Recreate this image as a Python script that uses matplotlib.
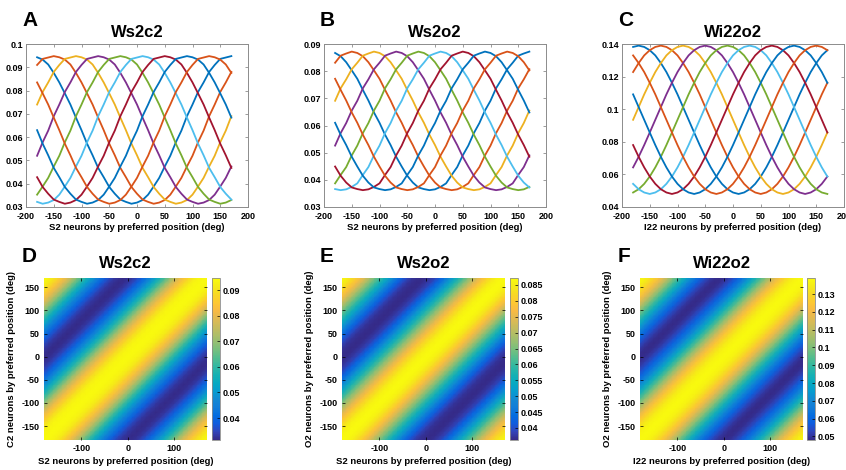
import numpy as np
import matplotlib
matplotlib.use('Agg')
import matplotlib.pyplot as plt
from matplotlib.colors import LinearSegmentedColormap
from matplotlib.ticker import FormatStrFormatter

plt.rcParams['font.family'] = ['Liberation Sans', 'DejaVu Sans']
plt.rcParams['font.weight'] = 'bold'
plt.rcParams['axes.unicode_minus'] = False

# preferred positions of the 36 neurons (deg)
pos = np.arange(-180, 180, 10)

# weight as a function of distance from the peak, 0..350 deg in 10 deg steps
prof_s2c2 = [0.0948, 0.0943, 0.0933, 0.0912, 0.0876, 0.0835, 0.0788, 0.0740, 0.0684,
             0.0630, 0.0572, 0.0522, 0.0468, 0.0428, 0.0386, 0.0357, 0.0332, 0.0322,
             0.0314, 0.0319, 0.0330, 0.0353, 0.0388, 0.0425, 0.0474, 0.0520, 0.0578,
             0.0628, 0.0690, 0.0740, 0.0794, 0.0835, 0.0880, 0.0910, 0.0936, 0.0942]
prof_s2o2 = [0.0872, 0.0867, 0.0855, 0.0833, 0.0803, 0.0772, 0.0731, 0.0692, 0.0648,
             0.0610, 0.0566, 0.0528, 0.0485, 0.0449, 0.0415, 0.0390, 0.0372, 0.0366,
             0.0362, 0.0365, 0.0374, 0.0387, 0.0418, 0.0447, 0.0490, 0.0526, 0.0572,
             0.0609, 0.0655, 0.0691, 0.0737, 0.0770, 0.0807, 0.0831, 0.0857, 0.0865]
prof_i22o2 = [0.1390, 0.1382, 0.1362, 0.1330, 0.1283, 0.1228, 0.1162, 0.1091, 0.1013,
              0.0935, 0.0857, 0.0780, 0.0708, 0.0643, 0.0587, 0.0542, 0.0509, 0.0489,
              0.0480, 0.0489, 0.0509, 0.0542, 0.0587, 0.0643, 0.0708, 0.0780, 0.0857,
              0.0935, 0.1013, 0.1091, 0.1162, 0.1228, 0.1283, 0.1330, 0.1362, 0.1382]

# plotted rows (every 4th neuron) and their offset, one per panel
row_shift = [-1, -1, 1]

titles = ['Ws2c2', 'Ws2o2', 'Wi22o2']
xlabels = ['S2 neurons by preferred position (deg)',
           'S2 neurons by preferred position (deg)',
           'I22 neurons by preferred position (deg)']
ylabels = ['C2 neurons by preferred position (deg)',
           'O2 neurons by preferred position (deg)',
           'O2 neurons by preferred position (deg)']
top_letters = ['A', 'B', 'C']
bot_letters = ['D', 'E', 'F']
ylims = [(0.03, 0.1), (0.03, 0.09), (0.04, 0.14)]
yticks = [np.arange(0.03, 0.1001, 0.01), np.arange(0.03, 0.0901, 0.01),
          np.arange(0.04, 0.1401, 0.02)]
cbar_ticks = [np.arange(0.04, 0.0901, 0.01), np.arange(0.04, 0.0851, 0.005),
              np.arange(0.05, 0.1301, 0.01)]

matlab_colors = ['#0072BD', '#D95319', '#EDB120', '#7E2F8E',
                 '#77AC30', '#4DBEEE', '#A2142F']

parula = LinearSegmentedColormap.from_list('parula', [
    (0.2081, 0.1663, 0.5292), (0.1959, 0.2645, 0.7279), (0.0591, 0.3598, 0.8683),
    (0.0165, 0.4266, 0.8786), (0.0723, 0.4887, 0.8467), (0.0749, 0.5375, 0.8263),
    (0.0265, 0.6137, 0.8135), (0.0267, 0.6642, 0.7607), (0.0843, 0.6928, 0.7062),
    (0.1801, 0.7177, 0.6424), (0.3022, 0.7376, 0.5712), (0.4420, 0.7481, 0.5033),
    (0.5709, 0.7485, 0.4494), (0.6834, 0.7435, 0.4044), (0.7858, 0.7356, 0.3633),
    (0.8824, 0.7274, 0.3217), (0.9739, 0.7314, 0.2666), (0.9955, 0.7861, 0.1967),
    (0.9697, 0.8481, 0.1475), (0.9598, 0.9218, 0.0948), (0.9763, 0.9831, 0.0538)])

fig = plt.figure(figsize=(8.46, 4.70), dpi=100)
W, H = 846.0, 470.0

top_left = [26, 324, 622]
bot_left = [44, 342, 640]
cb_left = [212, 510, 807]
frame = '#8c8c8c'

for n, prof in enumerate([prof_s2c2, prof_s2o2, prof_i22o2]):
    prof = np.array(prof)
    # matrix: row i = weights onto neuron i, peak at its own position
    M = np.array([np.roll(prof, i) for i in range(len(pos))])

    # ---- top row: tuning curves
    ax = fig.add_axes([top_left[n] / W, 1 - 207 / H, 222 / W, 163 / H])
    for k in range(9):
        row = (4 * k + row_shift[n]) % len(pos)
        ax.plot(pos, M[row], color=matlab_colors[k % 7], lw=1.3)
    ax.set_xlim(-200, 200)
    ax.set_xticks(np.arange(-200, 201, 50))
    ax.set_ylim(*ylims[n])
    ax.set_yticks(yticks[n])
    ax.yaxis.set_major_formatter(FormatStrFormatter('%g'))
    ax.tick_params(direction='in', length=2.5, width=0.6, labelsize=6.5,
                   top=True, right=True, color=frame)
    ax.tick_params(axis='x', pad=3.5)
    ax.tick_params(axis='y', pad=2)
    for s in ax.spines.values():
        s.set_color(frame)
        s.set_linewidth(0.7)
    ax.set_xlabel(xlabels[n], fontsize=6.8, fontweight='bold', labelpad=1.5)
    ax.set_title(titles[n], fontsize=12, fontweight='bold', pad=5)
    fig.text((top_left[n] - 4) / W, 1 - 26 / H, top_letters[n],
             fontsize=15, fontweight='bold', ha='left', va='baseline')

    # ---- bottom row: weight matrix
    ax2 = fig.add_axes([bot_left[n] / W, 1 - 440 / H, 163 / W, 162 / H])
    im = ax2.pcolormesh(pos, pos, M, shading='gouraud', cmap=parula,
                        vmin=prof.min(), vmax=prof.max())
    ax2.set_xlim(pos[0], pos[-1])
    ax2.set_ylim(pos[0], pos[-1])
    ax2.set_xticks([-100, 0, 100])
    ax2.set_yticks(np.arange(-150, 151, 50))
    ax2.tick_params(direction='in', length=2, width=0.5, labelsize=6.5,
                    top=True, right=True, pad=3)
    for s in ax2.spines.values():
        s.set_visible(False)
    ax2.set_xlabel(xlabels[n], fontsize=6.8, fontweight='bold', labelpad=3)
    ax2.set_ylabel(ylabels[n], fontsize=6.8, fontweight='bold', labelpad=4)
    ax2.set_title(titles[n], fontsize=12, fontweight='bold', pad=7)
    fig.text((bot_left[n] - 22) / W, 1 - 262 / H, bot_letters[n],
             fontsize=15, fontweight='bold', ha='left', va='baseline')

    cax = fig.add_axes([cb_left[n] / W, 1 - 440 / H, 7.5 / W, 162 / H])
    cb = fig.colorbar(im, cax=cax, ticks=cbar_ticks[n], format='%g')
    cb.outline.set_edgecolor(frame)
    cb.outline.set_linewidth(0.6)
    cax.tick_params(direction='in', length=2, width=0.5, labelsize=6.5, pad=2)

fig.savefig('out.png', dpi=100)
